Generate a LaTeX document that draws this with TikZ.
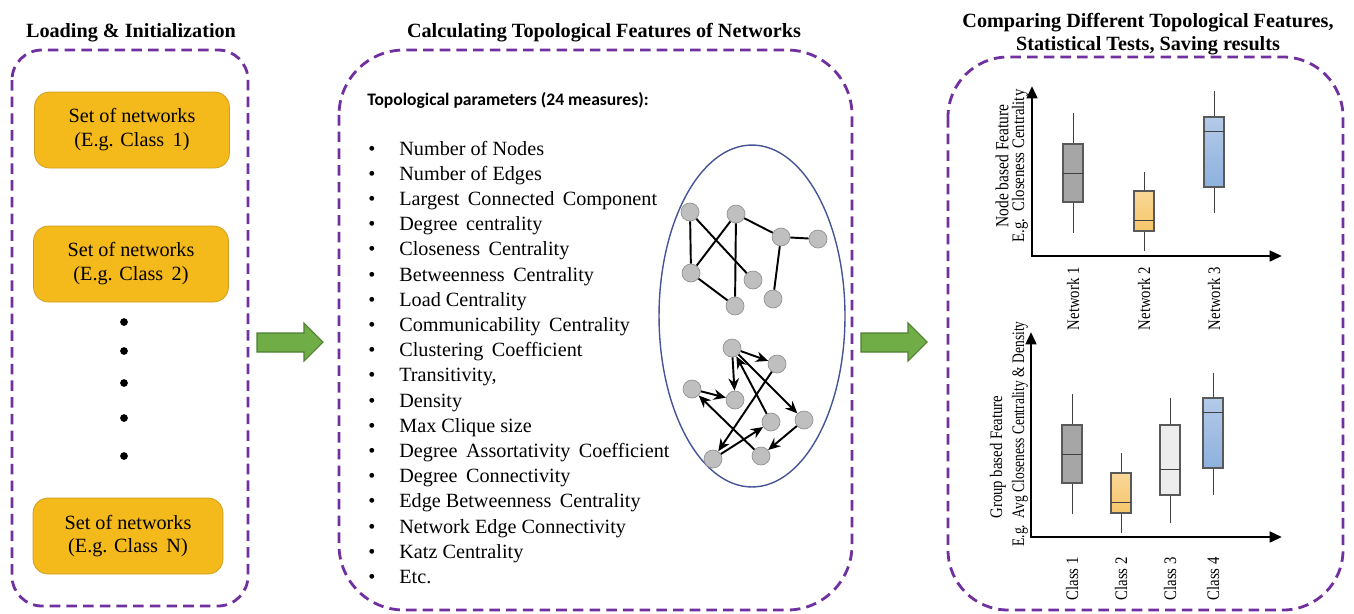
\documentclass[tikz,border=0pt]{standalone}
\usepackage{fontspec}
\setmainfont{Liberation Serif}
\newfontfamily\bodyserif{Liberation Serif}
\newfontfamily\paramfont{Carlito}
\usetikzlibrary{arrows.meta, positioning, calc}
\definecolor{panelpurple}{RGB}{112,48,160}
\definecolor{setyellow}{RGB}{244,185,26}
\definecolor{setedge}{RGB}{205,155,35}
\definecolor{flowgreen}{RGB}{112,173,71}
\definecolor{flowedge}{RGB}{80,126,50}
\definecolor{ringblue}{RGB}{68,84,150}
\definecolor{nodegray}{RGB}{191,191,191}
\definecolor{boxgray}{RGB}{166,166,166}
\definecolor{boxlight}{RGB}{237,237,237}
\definecolor{goldtop}{RGB}{249,215,152}
\definecolor{goldbot}{RGB}{246,199,106}
\definecolor{bluetop}{RGB}{180,202,232}
\definecolor{bluebot}{RGB}{141,177,222}

\tikzset{
  panel/.style={draw=panelpurple, line width=1.6pt, dash pattern=on 6pt off 3.5pt},
  setbox/.style={draw=setedge, fill=setyellow, rounded corners=0.3cm, minimum width=3.9cm,
    minimum height=1.52cm, align=center, font=\bodyserif\fontsize{11.5}{13.6}\selectfont},
  title/.style={font=\bodyserif\bfseries\fontsize{11.5}{13}\selectfont, align=center},
  param/.style={anchor=base west, inner sep=0pt, font=\bodyserif\fontsize{11.5}{14}\selectfont},
  gnode/.style={circle, fill=nodegray, draw=gray!85, minimum size=0.36cm, inner sep=0pt},
  gedge/.style={line width=1.1pt},
  garrow/.style={line width=1.1pt, -{Stealth[length=7pt, width=6pt]}},
  flowarrow/.style={fill=flowgreen, draw=flowedge, line width=0.6pt},
  axisline/.style={line width=1.6pt, {Triangle[length=7pt, width=6pt]}-{Triangle[length=7pt, width=6pt]}},
  whisker/.style={draw=black!75, line width=0.5pt},
  graybox/.style={fill=boxgray, draw=black!65, line width=0.6pt},
  lightbox/.style={fill=boxlight, draw=black!65, line width=0.6pt},
  goldbox/.style={top color=goldtop, bottom color=goldbot, draw=black!65, line width=0.6pt},
  bluebox/.style={top color=bluetop, bottom color=bluebot, draw=black!65, line width=0.6pt},
  axlabel/.style={rotate=90, inner sep=0pt, font=\bodyserif\fontsize{10}{12}\selectfont},
}

% narrow text for the chart labels
\newcommand{\narrow}[2][0.84]{\scalebox{#1}[1]{#2}}

% cx, whisker top, box top, median, box bottom, whisker bottom, style
\newcommand{\drawbox}[7]{%
  \draw[whisker] (#1,#2) -- (#1,#6);
  \draw[#7] (#1-10,#3) rectangle (#1+10,#5);
  \draw[whisker] (#1-10,#4) -- (#1+10,#4);
}

\begin{document}
\begin{tikzpicture}[x=0.02cm, y=-0.02cm]
  \useasboundingbox (0,0) rectangle (1354,613);

  % titles
  \node[title] (ttlload) at (131,33) {Loading \& Initialization};
  \node[title] (ttlcalc) at (604,33) {Calculating Topological Features of Networks};
  \node[title] (ttlcomp) at (1148,34) {Comparing Different Topological Features,\\Statistical Tests, Saving results};

  % panels
  \draw[panel, rounded corners=0.6cm] (12,50) rectangle (248,606);
  \draw[panel, rounded corners=1.3cm] (339,50) rectangle (852,610);
  \draw[panel, rounded corners=1.2cm] (948,57) rectangle (1343,610);

  % loading
  \node[setbox] (set1) at (132,130) {Set of networks\\(E.g. Class\, 1)};
  \node[setbox] (set2) at (131,264) {Set of networks\\(E.g. Class\, 2)};
  \node[setbox, minimum width=3.8cm] (setN) at (128,536) {Set of networks\\(E.g. Class\, N)};
  \foreach \y in {322,351,383,418,456}
    \fill (124,\y) circle (2.2pt);

  % flow arrows
  \foreach \dx in {0,604}
    \draw[flowarrow, xshift=\dx*0.02cm] (257,333) -- (304,333) -- (304,323) -- (323,342)
      -- (304,361) -- (304,352) -- (257,352) -- cycle;

  % parameters
  \node[anchor=west, inner sep=0pt, font=\paramfont\bfseries\fontsize{10}{12}\selectfont] (paramhead) at (367,100)
    {Topological parameters (24 measures):};
  \foreach \txt [count=\i] in {Number of Nodes, Number of Edges, Largest\, Connected\, Component,
      Degree\, centrality, Closeness\, Centrality, Betweenness\, Centrality, Load Centrality,
      Communicability\, Centrality, Clustering\, Coefficient, {Transitivity,}, Density,
      Max Clique size, Degree\, Assortativity\, Coefficient, Degree\, Connectivity,
      Edge Betweenness\, Centrality, Network Edge Connectivity, Katz Centrality, Etc.} {
    \node[param] (par\i) at (399,{155+25.2*(\i-1)}) {\txt};
    \node[param] (bul\i) at (368,{155+25.2*(\i-1)}) {\textbullet};
  }

  % networks
  \draw[ringblue, line width=0.8pt] (752,316) ellipse [x radius=1.86cm, y radius=3.42cm];
  \node[gnode] (u1) at (690,212) {};
  \node[gnode] (u2) at (736,214) {};
  \node[gnode] (u3) at (781,237) {};
  \node[gnode] (u4) at (818,239) {};
  \node[gnode] (u5) at (691,273) {};
  \node[gnode] (u6) at (753,280) {};
  \node[gnode] (u7) at (735,306) {};
  \node[gnode] (u8) at (773,299) {};
  \draw[gedge] (u1) -- (u5);
  \draw[gedge] (u1) -- (u6);
  \draw[gedge] (u2) -- (u5);
  \draw[gedge] (u2) -- (u7);
  \draw[gedge] (u2) -- (u3);
  \draw[gedge] (u3) -- (u4);
  \draw[gedge] (u3) -- (u8);
  \draw[gedge] (u5) -- (u7);

  \node[gnode] (d1) at (732,348) {};
  \node[gnode] (d2) at (777,364) {};
  \node[gnode] (d3) at (692,389) {};
  \node[gnode] (d4) at (735,400) {};
  \node[gnode] (d5) at (771,422) {};
  \node[gnode] (d6) at (804,420) {};
  \node[gnode] (d7) at (713,459) {};
  \node[gnode] (d8) at (761,456) {};
  \draw[garrow] (d1) -- (d2);
  \draw[garrow] (d1) -- (d4);
  \draw[garrow] (d3) -- (d4);
  \draw[garrow] (d8) -- (d3);
  \draw[garrow] (d2) -- (d7);
  \draw[garrow] (d7) -- (d5);
  \draw[garrow] (d5) -- (d1);
  \draw[garrow] (d1) -- (d6);
  \draw[garrow] (d6) -- (d8);

  % node based chart
  \coordinate (nbO) at (1032,256);
  \draw[axisline] (1032,86) -- (nbO) -- (1282,256);
  \drawbox{1073}{113}{144}{173}{202}{233}{graybox}
  \drawbox{1144}{172}{191}{220}{231}{251}{goldbox}
  \drawbox{1214}{91}{117}{131}{187}{213}{bluebox}
  \node[axlabel, font=\bodyserif\fontsize{10.5}{12}\selectfont] (nbyl1) at (1002,166) {\narrow{Node based Feature}};
  \node[axlabel] (nbyl2) at (1020,166) {\narrow{E.g.\ \ Closeness Centrality}};
  \node[axlabel, anchor=east] (nbx1) at (1073,267) {\narrow{Network 1}};
  \node[axlabel, anchor=east] (nbx2) at (1144,267) {\narrow{Network 2}};
  \node[axlabel, anchor=east] (nbx3) at (1214,267) {\narrow{Network 3}};

  % group based chart
  \coordinate (gbO) at (1031,537);
  \draw[axisline] (1031,332) -- (gbO) -- (1282,537);
  \drawbox{1072}{394}{425}{454}{483}{514}{graybox}
  \drawbox{1121}{453}{473}{502}{513}{533}{goldbox}
  \drawbox{1170}{398}{425}{469}{495}{523}{lightbox}
  \drawbox{1213}{373}{398}{412}{468}{495}{bluebox}
  \node[axlabel] (gbyl1) at (998,457) {\narrow{Group based Feature}};
  \node[axlabel] (gbyl2) at (1020,434) {\narrow[0.77]{E.g.\ \ Avg Closeness Centrality \& Density}};
  \node[axlabel, anchor=east] (gbx1) at (1072,557) {\narrow{Class 1}};
  \node[axlabel, anchor=east] (gbx2) at (1121,557) {\narrow{Class 2}};
  \node[axlabel, anchor=east] (gbx3) at (1170,557) {\narrow{Class 3}};
  \node[axlabel, anchor=east] (gbx4) at (1213,557) {\narrow{Class 4}};
\end{tikzpicture}
\end{document}
